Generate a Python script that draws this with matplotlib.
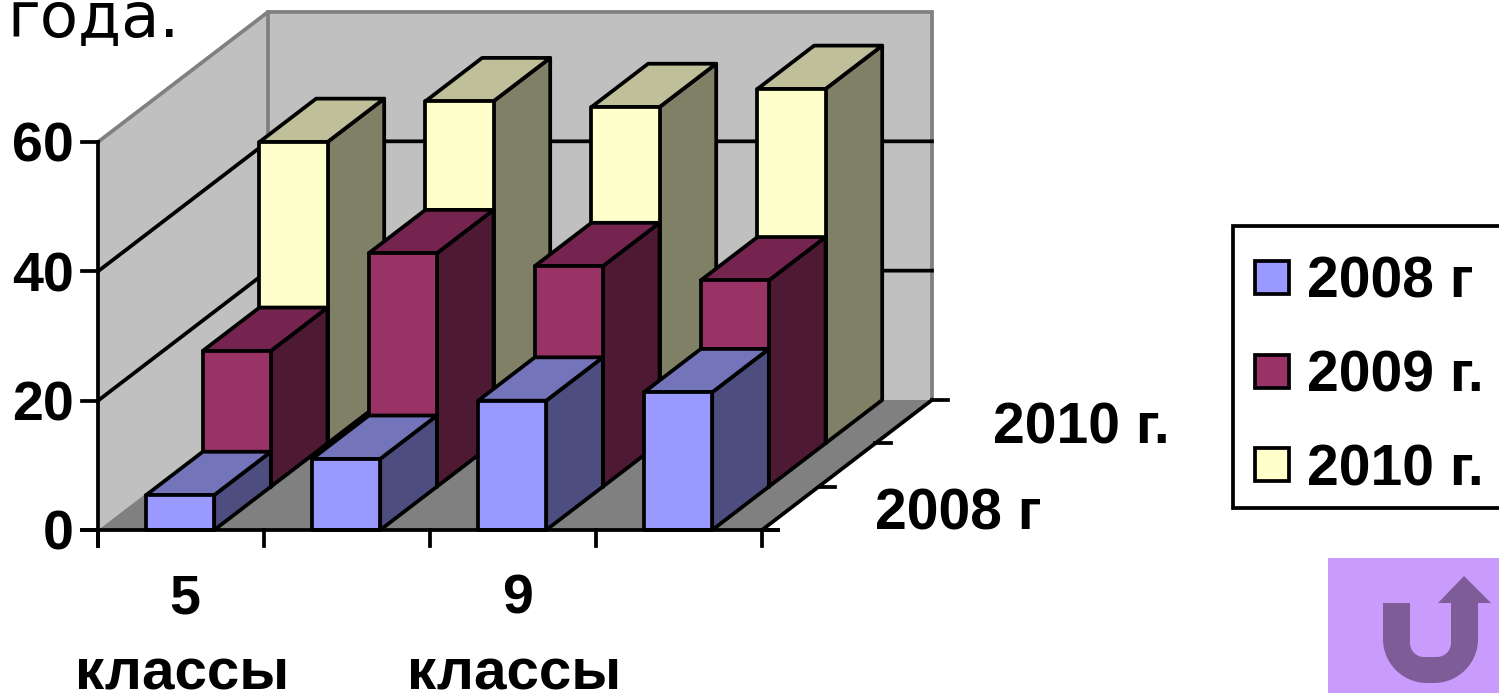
import matplotlib
matplotlib.use("Agg")
import matplotlib.pyplot as plt
from matplotlib.patches import Polygon, Rectangle, PathPatch
from matplotlib.path import Path

W, H = 1499, 693
# ---- data ----
categories = ["5\nклассы", "", "9\nклассы", ""]
series_names = ["2008 г", "2009 г.", "2010 г."]
values_2008 = [5.4, 11.0, 20.0, 21.3]
values_2009 = [21.0, 36.1, 34.1, 31.9]
values_2010 = [46.6, 52.9, 52.0, 54.8]
y_ticks = [0, 20, 40, 60]
depth_labels = ["2008 г", "", "2010 г."]
front_colors = ["#9999FF", "#993366", "#FFFFCC"]
top_colors = ["#7474BA", "#74244F", "#BFBF99"]
side_colors = ["#4D4D80", "#4D1933", "#808066"]
title_tail = "года."

# ---- layout ----
X0, Y0 = 98, 530            # pixel position of category 0 / value 0
CAT_PX, VAL_PX = 166.0, 6.467
DX, DY = 170 / 3, 130 / 3   # pixel shift of one depth row
BAR_L, BAR_R = 0.29, 0.70
LW = 2.7
FONT = "Liberation Sans"

fig = plt.figure(figsize=(W / 100, H / 100), dpi=100, facecolor="white")
# Chart axes in category/value units, spread over the whole figure
ax = fig.add_axes([0, 0, 1, 1])
ax.set_xlim(-X0 / CAT_PX, (W - X0) / CAT_PX)
ax.set_ylim(-(H - Y0) / VAL_PX, Y0 / VAL_PX)
ax.axis("off")
# Overlay in pixels, for the items that are not chart data
px = fig.add_axes([0, 0, 1, 1], facecolor="none")
px.set_xlim(0, W)
px.set_ylim(H, 0)
px.axis("off")


def ob(c, d, v):
    """Oblique projection of category position, depth row, value."""
    return (c + d * DX / CAT_PX, v + d * DY / VAL_PX)


def pxx(n):
    return n / CAT_PX


def pxy(n):
    return n / VAL_PX


def poly(points, face, edge="none", lw=0, z=1):
    ax.add_patch(Polygon(points, closed=True, facecolor=face, edgecolor=edge,
                         linewidth=lw, joinstyle="round", zorder=z))


n_cat = len(categories)
n_depth = len(series_names)
vmax = y_ticks[-1]

# walls and floor
poly([ob(0, n_depth, 0), ob(n_cat, n_depth, 0), ob(n_cat, n_depth, vmax), ob(0, n_depth, vmax)],
     "#C0C0C0", z=1)
poly([ob(0, 0, 0), ob(0, n_depth, 0), ob(0, n_depth, vmax), ob(0, 0, vmax)], "#C0C0C0", z=1)
poly([ob(0, 0, 0), ob(n_cat, 0, 0), ob(n_cat, n_depth, 0), ob(0, n_depth, 0)], "#808080", z=1)

# wall outline in grey
gx, gy = zip(ob(0, 0, vmax), ob(0, n_depth, vmax), ob(n_cat, n_depth, vmax), ob(n_cat, n_depth, 0))
ax.plot(gx, gy, color="#808080", lw=LW, zorder=2, solid_joinstyle="miter")
gx, gy = zip(ob(0, n_depth, vmax), ob(0, n_depth, 0))
ax.plot(gx, gy, color="#808080", lw=LW, zorder=2)

# gridlines
for v in y_ticks[1:-1]:
    gx, gy = zip(ob(0, 0, v), ob(0, n_depth, v), ob(n_cat, n_depth, v))
    ax.plot(gx, gy, color="black", lw=LW, zorder=3, solid_joinstyle="round")

# bars, back row first
rows = [values_2008, values_2009, values_2010]
z = 4
for k in reversed(range(n_depth)):
    for i, v in enumerate(rows[k]):
        l, r = i + BAR_L, i + BAR_R
        poly([ob(r, k, 0), ob(r, k + 1, 0), ob(r, k + 1, v), ob(r, k, v)],
             side_colors[k], "black", LW, z)
        poly([ob(l, k, v), ob(r, k, v), ob(r, k + 1, v), ob(l, k + 1, v)],
             top_colors[k], "black", LW, z)
        poly([ob(l, k, 0), ob(r, k, 0), ob(r, k, v), ob(l, k, v)],
             front_colors[k], "black", LW, z)
        z += 1

# axes lines
ZA = 50
ax.plot([0, 0], [0 - pxy(16), vmax], color="black", lw=LW, zorder=ZA)
ax.plot([-pxx(16), n_cat + pxx(16)], [0, 0], color="black", lw=LW, zorder=ZA)
for v in y_ticks:
    ax.plot([-pxx(16), 0], [v, v], color="black", lw=LW, zorder=ZA)
    ax.text(-pxx(24), v, str(v), ha="right", va="center_baseline", family=FONT,
            fontweight="bold", fontsize=40, zorder=ZA)
for i in range(n_cat + 1):
    ax.plot([i, i], [0, -pxy(16)], color="black", lw=LW, zorder=ZA)
gx, gy = zip(ob(n_cat, 0, 0), ob(n_cat, n_depth, 0))
ax.plot(gx, gy, color="black", lw=LW, zorder=ZA)
for d in range(n_depth + 1):
    p = ob(n_cat, d, 0)
    ax.plot([p[0], p[0] + pxx(16)], [p[1], p[1]], color="black", lw=LW, zorder=ZA)

# category labels
for i, lab in enumerate(categories):
    if not lab:
        continue
    top, bottom = lab.split("\n")
    ax.text(i + 0.5 + pxx(4), -pxy(83), top, ha="center", va="baseline", family=FONT,
            fontweight="bold", fontsize=40, zorder=ZA)
    ax.text(i + 0.5 + pxx(1), -pxy(160), bottom, ha="center", va="baseline", family=FONT,
            fontweight="bold", fontsize=42, zorder=ZA)

# depth labels
depth_pos = {0: (875, 529), 2: (993, 444)}
for d, lab in enumerate(depth_labels):
    if lab:
        x, y = depth_pos[d]
        px.text(x, y, lab, ha="left", va="baseline", family=FONT, fontweight="bold",
                fontsize=41, zorder=ZA)

# legend (runs off the right edge)
px.add_patch(Rectangle((1233, 226), 300, 282, facecolor="white", edgecolor="black",
                       linewidth=LW, zorder=10))
for (name, col, sy, by) in zip(series_names, front_colors, [261, 355, 448], [298, 391, 485]):
    px.add_patch(Rectangle((1255, sy), 34, 33, facecolor=col, edgecolor="black",
                           linewidth=LW, zorder=11))
    px.text(1307, by, name, ha="left", va="baseline", family=FONT, fontweight="bold",
            fontsize=41, zorder=11)

# remaining title line, cut by the top edge
px.text(7, 37, title_tail, ha="left", va="baseline", family="DejaVu Sans", fontsize=45,
        color="black", zorder=60)

# return button
px.add_patch(Rectangle((1328, 558), 172, 136, facecolor="#C99BFC", edgecolor="none", zorder=70))
M, L, C4 = Path.MOVETO, Path.LINETO, Path.CURVE4
Ro, Ri, K = 44, 14, 0.5523
verts = [(1383, 603), (1383, 683 - Ro),
         (1383, 683 - Ro + K * Ro), (1383 + Ro - K * Ro, 683), (1383 + Ro, 683),
         (1478 - Ro, 683),
         (1478 - Ro + K * Ro, 683), (1478, 683 - Ro + K * Ro), (1478, 683 - Ro),
         (1478, 603), (1491, 603), (1464, 576), (1438, 603), (1451, 603), (1451, 657 - Ri),
         (1451, 657 - Ri + K * Ri), (1451 - Ri + K * Ri, 657), (1451 - Ri, 657),
         (1410 + Ri, 657),
         (1410 + Ri - K * Ri, 657), (1410, 657 - Ri + K * Ri), (1410, 657 - Ri),
         (1410, 603), (1383, 603)]
codes = [M, L, C4, C4, C4, L, C4, C4, C4, L, L, L, L, L, L, C4, C4, C4, L, C4, C4, C4, L, L]
px.add_patch(PathPatch(Path(verts, codes), facecolor="#7D5C97", edgecolor="none", zorder=71))

fig.savefig("out.png", dpi=100, facecolor="white")
